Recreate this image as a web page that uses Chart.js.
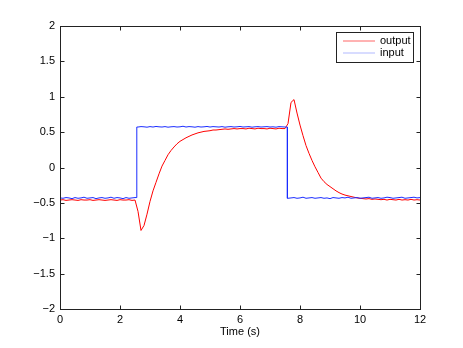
<!DOCTYPE html>
<html>
<head>
<meta charset="utf-8">
<script src="https://cdn.jsdelivr.net/npm/chart.js@4/dist/chart.umd.min.js"></script>
<style>
  html, body { margin: 0; padding: 0; background: #fff; }
  canvas { display: block; }
</style>
</head>
<body>
<canvas id="chartRespuesta" width="463" height="348"></canvas>
<script>
// muestras cada 0.1 s, de 0 a 12 s
const tiempo = Array.from({ length: 121 }, (_, i) => i / 10);

const entrada = [
  -0.43, -0.435, -0.425, -0.43, -0.44, -0.425, -0.435, -0.43, -0.42, -0.435,
  -0.43, -0.425, -0.44, -0.43, -0.425, -0.435, -0.43, -0.42, -0.435, -0.425,
  -0.43, -0.44, -0.425, -0.435, -0.43, -0.425,
  0.572, 0.578, 0.575, 0.57, 0.578, 0.572, 0.58, 0.575, 0.572, 0.578,
  0.57, 0.575, 0.578, 0.572, 0.575, 0.583, 0.572, 0.578, 0.575, 0.57,
  0.578, 0.572, 0.575, 0.58, 0.572, 0.578, 0.575, 0.572, 0.578, 0.57,
  0.575, 0.578, 0.572, 0.575, 0.58, 0.572, 0.575, 0.578, 0.57, 0.575,
  0.578, 0.572, 0.575, 0.578, 0.572, 0.575, 0.57, 0.578, 0.575, 0.572,
  -0.435, -0.43, -0.425, -0.435, -0.43, -0.42, -0.435, -0.43, -0.425, -0.435,
  -0.43, -0.425, -0.435, -0.43, -0.44, -0.425, -0.43, -0.435, -0.425, -0.43,
  -0.42, -0.435, -0.43, -0.425, -0.435, -0.43, -0.425, -0.42, -0.435, -0.43,
  -0.425, -0.435, -0.43, -0.42, -0.425, -0.435, -0.43, -0.425, -0.42, -0.435,
  -0.43, -0.425, -0.42, -0.43, -0.425,
];

// instantes de los escalones de la entrada: [t, antes, despues]
const escalones = [
  [2.56, -0.425, 0.572],
  [7.58, 0.572, -0.435],
];

const salida = [
  -0.46, -0.455, -0.465, -0.46, -0.455, -0.46, -0.465, -0.455, -0.46, -0.46,
  -0.455, -0.465, -0.46, -0.455, -0.46, -0.465, -0.46, -0.455, -0.46, -0.465,
  -0.455, -0.46, -0.46, -0.455, -0.465, -0.46,
  -0.62, -0.89, -0.82, -0.66, -0.48, -0.33, -0.21, -0.09, 0.02, 0.1,
  0.18, 0.24, 0.29, 0.335, 0.37, 0.395, 0.42, 0.44, 0.46, 0.475,
  0.49, 0.5, 0.51, 0.515, 0.52, 0.53, 0.53, 0.535, 0.54, 0.545,
  0.54, 0.545, 0.55, 0.545, 0.55, 0.55, 0.545, 0.555, 0.55, 0.545,
  0.555, 0.55, 0.55, 0.545, 0.555, 0.55, 0.545, 0.555, 0.55, 0.55,
  0.62, 0.92, 0.96, 0.77, 0.6, 0.45, 0.31, 0.2, 0.1, 0.01,
  -0.07, -0.15, -0.2, -0.24, -0.27, -0.3, -0.33, -0.355, -0.375, -0.39,
  -0.4, -0.41, -0.42, -0.43, -0.435, -0.44, -0.445, -0.44, -0.45, -0.445,
  -0.45, -0.455, -0.45, -0.46, -0.45, -0.455, -0.46, -0.45, -0.46, -0.455,
  -0.46, -0.45, -0.46, -0.455, -0.46,
];

const FUENTE = '"Liberation Sans", Arial, sans-serif';

const menos = (v) => String(v).replace('-', '\u2212');

const puntosEntrada = tiempo.map((t, i) => ({ x: t, y: entrada[i] }));
escalones.forEach(([t, antes, despues]) => {
  puntosEntrada.push({ x: t, y: antes }, { x: t, y: despues });
});
// orden estable: el valor "antes" queda delante del "despues"
puntosEntrada.sort((a, b) => a.x - b.x);

// marco completo con marcas hacia dentro (estilo matlab)
const marcoPlugin = {
  id: 'marco',
  afterDatasetsDraw(chart) {
    const { ctx, chartArea: a, scales } = chart;
    const L = Math.round(a.left) + 0.5;
    const R = Math.round(a.right) + 0.5;
    const T = Math.round(a.top) + 0.5;
    const B = Math.round(a.bottom) + 0.5;
    ctx.save();
    ctx.strokeStyle = '#222';
    ctx.lineWidth = 1;
    ctx.beginPath();
    scales.x.ticks.forEach((t) => {
      const px = Math.round(scales.x.getPixelForValue(t.value)) + 0.5;
      ctx.moveTo(px, B); ctx.lineTo(px, B - 4);
      ctx.moveTo(px, T); ctx.lineTo(px, T + 4);
    });
    scales.y.ticks.forEach((t) => {
      const py = Math.round(scales.y.getPixelForValue(t.value)) + 0.5;
      ctx.moveTo(L, py); ctx.lineTo(L + 4, py);
      ctx.moveTo(R, py); ctx.lineTo(R - 4, py);
    });
    ctx.stroke();
    ctx.strokeRect(L, T, R - L, B - T);
    ctx.restore();
  },
};

// leyenda dentro del grafico, esquina superior derecha
const leyendaPlugin = {
  id: 'leyenda',
  afterDraw(chart) {
    const { ctx } = chart;
    const x0 = 336.5, y0 = 32.5, w = 77, h = 30;
    ctx.save();
    ctx.fillStyle = '#fff';
    ctx.fillRect(x0, y0, w, h);
    ctx.strokeStyle = '#222';
    ctx.lineWidth = 1;
    ctx.strokeRect(x0, y0, w, h);
    ctx.font = '11px ' + FUENTE;
    ctx.textBaseline = 'middle';
    chart.data.datasets.forEach((ds, i) => {
      const y = 41 + i * 12;
      ctx.strokeStyle = ds.leyendaColor;
      ctx.beginPath();
      ctx.moveTo(343, y);
      ctx.lineTo(375, y);
      ctx.stroke();
      ctx.fillStyle = '#000';
      ctx.fillText(ds.label, 380, y);
    });
    ctx.restore();
  },
};

const ctx = document.getElementById('chartRespuesta').getContext('2d');
// eslint-disable-next-line no-undef
new Chart(ctx, {
  type: 'line',
  data: {
    datasets: [
      {
        label: 'output',
        data: tiempo.map((t, i) => ({ x: t, y: salida[i] })),
        borderColor: '#ff0000',
        leyendaColor: 'rgba(255,0,0,0.6)',
        borderWidth: 1,
        pointRadius: 0,
        order: 1,
      },
      {
        label: 'input',
        data: puntosEntrada,
        borderColor: '#1a2cff',
        leyendaColor: 'rgba(60,80,255,0.4)',
        borderWidth: 1,
        pointRadius: 0,
        order: 0,
      },
    ],
  },
  options: {
    responsive: false,
    animation: false,
    layout: { padding: { top: 26, right: 43, left: 0, bottom: 0 } },
    plugins: {
      legend: { display: false },
      tooltip: { enabled: false },
    },
    scales: {
      x: {
        type: 'linear',
        min: 0,
        max: 12,
        ticks: {
          stepSize: 2,
          color: '#000',
          padding: 4,
          maxRotation: 0,
          font: { family: FUENTE, size: 11 },
          callback: (v) => menos(v),
        },
        grid: { display: false, drawTicks: false },
        border: { display: false },
        title: {
          display: true,
          text: 'Time (s)',
          color: '#000',
          font: { family: FUENTE, size: 11 },
          padding: { top: 0, bottom: 9 },
        },
        afterFit: (scale) => { scale.height = 39; },
      },
      y: {
        min: -2,
        max: 2,
        ticks: {
          stepSize: 0.5,
          color: '#000',
          padding: 5,
          font: { family: FUENTE, size: 11 },
          callback: (v) => menos(v),
        },
        grid: { display: false, drawTicks: false },
        border: { display: false },
        afterFit: (scale) => { scale.width = 60; },
      },
    },
  },
  plugins: [marcoPlugin, leyendaPlugin],
});
</script>
</body>
</html>
